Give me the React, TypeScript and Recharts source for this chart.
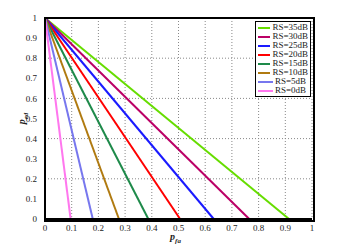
import { CartesianGrid, Line, LineChart, XAxis, YAxis, Label } from 'recharts';

// RS levels and the p_fa where each line reaches p_ed = 0
const rsLabels = ['RS=35dB', 'RS=30dB', 'RS=25dB', 'RS=20dB', 'RS=15dB', 'RS=10dB', 'RS=5dB', 'RS=0dB'];
const pfaAtZero = [0.914, 0.765, 0.632, 0.506, 0.387, 0.277, 0.179, 0.096];
const pedStart = [1, 1, 1, 1, 1, 1, 1, 1];
const colors = ['#66dd00', '#bb0066', '#1a1aff', '#ff0000', '#1e8a4a', '#b07a10', '#7777ee', '#ff77ee'];
const ticks = [0, 0.1, 0.2, 0.3, 0.4, 0.5, 0.6, 0.7, 0.8, 0.9, 1];

const FONT = '"Liberation Serif", "DejaVu Serif", serif';
const tickStyle = { fontSize: 9, fill: '#222', fontFamily: FONT };

// plot area in page pixels
const PLOT = { left: 45, top: 18, right: 312, bottom: 219 };

function LegendBox() {
  return (
    <div
      style={{
        position: 'absolute',
        left: 255,
        top: 21,
        width: 50,
        border: '1.5px solid #000',
        background: '#fff',
        padding: '1px 2px',
        fontFamily: FONT,
        fontSize: 9,
        lineHeight: '9px',
        color: '#222',
      }}
    >
      {rsLabels.map((name, i) => (
        <div key={name} style={{ display: 'flex', alignItems: 'center', height: 9, whiteSpace: 'nowrap' }}>
          <span style={{ display: 'inline-block', width: 15, height: 2, background: colors[i], marginRight: 2 }} />
          {name}
        </div>
      ))}
    </div>
  );
}

function AxisName({ viewBox, main, sub, rotate }: any) {
  const { x, y, width, height } = viewBox;
  const cx = rotate ? 25 : x + width / 2 - 3;
  const cy = rotate ? y + height / 2 : 240;
  return (
    <text
      x={cx}
      y={cy}
      transform={rotate ? `rotate(-90 ${cx} ${cy})` : undefined}
      textAnchor="middle"
      fontFamily={FONT}
      fontStyle="italic"
      fontWeight="bold"
      fontSize={10}
      fill="#222"
    >
      {main}
      <tspan fontSize={7} dy={3}>{sub}</tspan>
    </text>
  );
}

export default function App() {
  return (
    <div style={{ position: 'absolute', left: 0, top: 0, width: 345, height: 247, background: '#fff' }}>
      <LineChart width={345} height={247} margin={{ top: 18, right: 33, left: 5, bottom: 8 }}>
        <CartesianGrid stroke="#888" strokeDasharray="1 2" />
        <XAxis
          type="number"
          dataKey="x"
          domain={[0, 1]}
          ticks={ticks}
          tick={tickStyle}
          tickLine={false}
          tickMargin={0}
          axisLine={{ stroke: '#000', strokeWidth: 2 }}
          height={20}
          allowDuplicatedCategory={false}
        >
          <Label content={<AxisName main="p" sub="fa" />} />
        </XAxis>
        <YAxis
          type="number"
          domain={[0, 1]}
          ticks={ticks}
          tick={tickStyle}
          tickLine={false}
          axisLine={{ stroke: '#000', strokeWidth: 2 }}
          width={40}
          tickFormatter={(v) => String(v)}
        >
          <Label content={<AxisName main="p" sub="ed" rotate />} />
        </YAxis>
        {rsLabels.map((name, i) => (
          <Line
            key={name}
            name={name}
            data={[
              { x: 0, y: pedStart[i] },
              { x: pfaAtZero[i], y: 0 },
            ]}
            dataKey="y"
            stroke={colors[i]}
            strokeWidth={2}
            dot={false}
            isAnimationActive={false}
          />
        ))}
      </LineChart>
      <div
        style={{
          position: 'absolute',
          left: PLOT.left - 1,
          top: PLOT.top - 1,
          width: PLOT.right - PLOT.left,
          height: PLOT.bottom - PLOT.top,
          border: '2px solid #000',
          pointerEvents: 'none',
        }}
      />
      <LegendBox />
    </div>
  );
}
